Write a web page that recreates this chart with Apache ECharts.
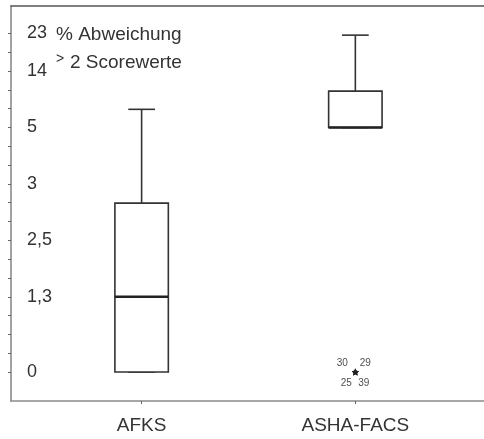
<!DOCTYPE html>
<html>
<head>
<meta charset="utf-8">
<script src="https://cdn.jsdelivr.net/npm/echarts@6/dist/echarts.min.js"></script>
<style>
  html, body { margin: 0; padding: 0; background: #fff; }
  #chart { width: 484px; height: 439px; }
</style>
</head>
<body>
<div id="chart"></div>
<script>
// Groups on the x axis
var categories = ['AFKS', 'ASHA-FACS'];

// Box summary per group (% Abweichung > 2 Scorewerte)
var boxMin    = [0, 5];
var boxQ1     = [0, 5];
var boxMedian = [1.3, 5];
var boxQ3     = [2.83, 10.8];
var boxMax    = [7.9, 22.6];

// Extreme values (case numbers) for ASHA-FACS
var outlierCases  = ['30', '29', '25', '39'];
var outlierValues = [0, 0, 0, 0];
var outlierGroup  = 'ASHA-FACS';

// Tick labels of the value axis
var yTickValues = [0, 1.3, 2.5, 3, 5, 14, 23];
var yTickLabels = ['0', '1,3', '2,5', '3', '5', '14', '23'];

// The value axis is stretched: each labelled value sits on a fixed rung
// of an evenly spaced ladder of 18 minor ticks.
var yTickRungs = [0, 4, 7, 10, 13, 16, 18];
function toRung(v) {
  if (v <= yTickValues[0]) return yTickRungs[0];
  for (var i = 1; i < yTickValues.length; i++) {
    if (v <= yTickValues[i]) {
      var t = (v - yTickValues[i - 1]) / (yTickValues[i] - yTickValues[i - 1]);
      return yTickRungs[i - 1] + t * (yTickRungs[i] - yTickRungs[i - 1]);
    }
  }
  return yTickRungs[yTickRungs.length - 1];
}
var minorRungs = [];
for (var r = 0; r <= 18; r++) minorRungs.push(r);

var boxData = categories.map(function (c, i) {
  return [i + 1, toRung(boxMin[i]), toRung(boxQ1[i]), toRung(boxMedian[i]),
          toRung(boxQ3[i]), toRung(boxMax[i])];
});

var labelOffsets = [[-13, -9], [10, -9], [-9, 11], [8.5, 11]];
var outlierX = categories.indexOf(outlierGroup) + 1;
var outlierData = outlierCases.map(function (c, i) {
  return {
    value: [outlierX, toRung(outlierValues[i])],
    name: c,
    label: { offset: labelOffsets[i] }
  };
});

var chart = echarts.init(document.getElementById('chart'));
var font = 'Liberation Sans, Arial, sans-serif';

chart.setOption({
  animation: false,
  backgroundColor: '#fff',
  grid: { left: 11, top: 6, right: -5, bottom: 38 },
  xAxis: [{
    type: 'value',
    min: 0.3889, max: 2.6019,
    splitLine: { show: false },
    axisLine: { show: true, onZero: false, lineStyle: { color: '#8a8a8a', width: 1.6 } },
    axisTick: { show: true, customValues: [1, 2], length: 3, lineStyle: { color: '#666' } },
    axisLabel: {
      customValues: [1, 2],
      formatter: function (v) { return categories[Math.round(v) - 1] || ''; },
      margin: 15, fontSize: 19, color: '#333', fontFamily: font
    }
  }, {
    type: 'value', position: 'top',
    min: 0.3889, max: 2.6019,
    splitLine: { show: false },
    axisLine: { show: true, onZero: false, lineStyle: { color: '#555', width: 1.6 } },
    axisTick: { show: false }, axisLabel: { show: false }
  }],
  yAxis: {
    type: 'value',
    min: -1.54, max: 19.46,
    splitLine: { show: false },
    axisLine: { show: true, onZero: false, lineStyle: { color: '#8a8a8a', width: 1.6 } },
    axisTick: { show: true, customValues: minorRungs, length: 3, lineStyle: { color: '#666' } },
    axisLabel: {
      inside: true, margin: 16, align: 'left',
      customValues: yTickRungs,
      formatter: function (v) {
        var k = yTickRungs.indexOf(Math.round(v));
        return k >= 0 ? yTickLabels[k] : '';
      },
      fontSize: 18, color: '#333', fontFamily: font
    }
  },
  graphic: [
    { type: 'text', x: 56, y: 35,
      style: { text: '% Abweichung', font: '19px ' + font, fill: '#333', verticalAlign: 'middle' } },
    { type: 'text', x: 56, y: 59,
      style: { text: '>', font: '14px ' + font, fill: '#333', verticalAlign: 'middle' } },
    { type: 'text', x: 70, y: 63,
      style: { text: '2 Scorewerte', font: '19px ' + font, fill: '#333', verticalAlign: 'middle' } }
  ],
  series: [{
    type: 'custom',
    data: boxData,
    encode: { x: 0, y: [1, 2, 3, 4, 5] },
    renderItem: function (params, api) {
      var x = api.value(0);
      var w = api.size([0.25, 0])[0];
      var cx = api.coord([x, 0])[0];
      var yMin = api.coord([x, api.value(1)])[1];
      var yQ1 = api.coord([x, api.value(2)])[1];
      var yMed = api.coord([x, api.value(3)])[1];
      var yQ3 = api.coord([x, api.value(4)])[1];
      var yMax = api.coord([x, api.value(5)])[1];
      var stroke = { stroke: '#333', lineWidth: 1.6, fill: null };
      var children = [
        { type: 'line', shape: { x1: cx, y1: yQ3, x2: cx, y2: yMax }, style: stroke },
        { type: 'line', shape: { x1: cx - w / 4, y1: yMax, x2: cx + w / 4, y2: yMax }, style: stroke },
        { type: 'line', shape: { x1: cx, y1: yQ1, x2: cx, y2: yMin }, style: stroke },
        { type: 'line', shape: { x1: cx - w / 4, y1: yMin, x2: cx + w / 4, y2: yMin }, style: stroke },
        { type: 'rect', shape: { x: cx - w / 2, y: yQ3, width: w, height: yQ1 - yQ3 },
          style: { stroke: '#333', lineWidth: 1.6, fill: '#fff' } },
        { type: 'line', shape: { x1: cx - w / 2, y1: yMed, x2: cx + w / 2, y2: yMed },
          style: { stroke: '#222', lineWidth: 2.6 } }
      ];
      return { type: 'group', children: children };
    }
  }, {
    type: 'scatter',
    data: outlierData,
    symbol: 'path://M0,-10 L2.9,-4 9.5,-3.1 4.8,1.5 5.9,8.1 0,5 -5.9,8.1 -4.8,1.5 -9.5,-3.1 -2.9,-4Z',
    symbolSize: 7,
    itemStyle: { color: '#222' },
    label: {
      show: true, position: 'inside',
      formatter: function (p) { return p.name; },
      fontSize: 10, color: '#222', fontFamily: font
    },
    z: 5
  }]
});
</script>
</body>
</html>
